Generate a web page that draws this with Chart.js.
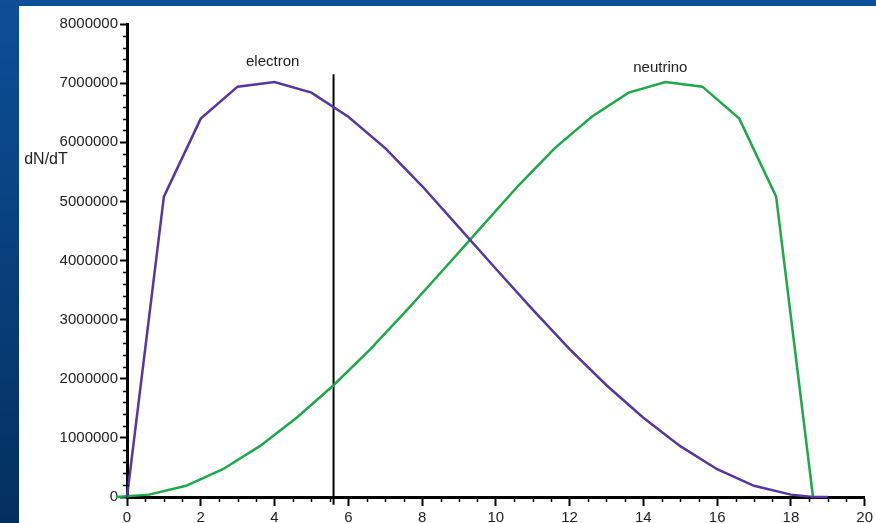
<!DOCTYPE html>
<html><head><meta charset="utf-8">
<script src="https://cdn.jsdelivr.net/npm/chart.js@4.4.0/dist/chart.umd.min.js"></script>
<style>
html,body{margin:0;padding:0;width:876px;height:523px;overflow:hidden;background:linear-gradient(#0d4f98,#03305f);}
#panel{position:absolute;left:19px;top:6px;width:857px;height:517px;background:#fff;}
#wrap{position:absolute;left:0;top:0;width:876px;height:523px;}
</style></head><body>
<div id="panel"></div>
<div id="wrap"><canvas id="c"></canvas></div>
<script>
// electron kinetic energy (keV) and dN/dT
const electronT = [0,1,2,3,4,5,6,7,8,9,10,11,12,13,14,15,16,17,18,18.6,19];
const electronN = [0,5080000,6400000,6940000,7020000,6840000,6430000,5900000,5260000,4560000,3860000,3170000,2500000,1890000,1340000,860000,470000,190000,40000,0,0];
// neutrino energy (keV) and dN/dT
const neutrinoT = [-0.3,0.6,1.6,2.6,3.6,4.6,5.6,6.6,7.6,8.6,9.6,10.6,11.6,12.6,13.6,14.6,15.6,16.6,17.6,18.6];
const neutrinoN = [0,40000,190000,470000,860000,1340000,1890000,2500000,3170000,3860000,4560000,5260000,5900000,6430000,6840000,7020000,6940000,6400000,5080000,0];
// vertical marker
const markerT = [5.6,5.6];
const markerN = [-130000,7150000];
// axis ticks
const xTickLabels = [0,2,4,6,8,10,12,14,16,18,20];
const yTickLabels = [0,1000000,2000000,3000000,4000000,5000000,6000000,7000000,8000000];
const seriesLabels = ['electron','neutrino'];
const yTitle = 'dN/dT';

const toXY = (xs, ys) => xs.map((x,i)=>({x:x,y:ys[i]}));
const FONT = '"Liberation Sans", Arial, sans-serif';

const extras = {
  id:'extras',
  afterDraw(chart){
    const ctx = chart.ctx, xs = chart.scales.x, ys = chart.scales.y;
    const a = chart.chartArea;
    ctx.save();
    ctx.strokeStyle = '#000';
    ctx.lineWidth = 1.5;
    // minor x ticks
    for (let v=0; v<=20.001; v+=0.5){
      if (Math.abs(v/2 - Math.round(v/2))<1e-6) continue;
      const px = Math.round(xs.getPixelForValue(v))+0.5;
      ctx.beginPath(); ctx.moveTo(px, a.bottom); ctx.lineTo(px, a.bottom+5); ctx.stroke();
    }
    // minor y ticks
    for (let v=0; v<=8000001; v+=200000){
      if (v % 1000000 === 0) continue;
      const py = Math.round(ys.getPixelForValue(v))+0.5;
      ctx.beginPath(); ctx.moveTo(a.left-4, py); ctx.lineTo(a.left+2, py); ctx.stroke();
    }
    // texts
    ctx.fillStyle = '#222';
    ctx.font = '15px ' + FONT;
    ctx.textAlign = 'center';
    ctx.textBaseline = 'middle';
    ctx.fillText(seriesLabels[0], xs.getPixelForValue(3.95), ys.getPixelForValue(7360000));
    ctx.fillText(seriesLabels[1], xs.getPixelForValue(14.46), ys.getPixelForValue(7260000));
    ctx.font = '16px ' + FONT;
    ctx.fillText(yTitle, 46, 160);
    ctx.restore();
  }
};

new Chart(document.getElementById('c'), {
  type:'line',
  data:{
    datasets:[
      {label:seriesLabels[0], data:toXY(electronT, electronN), borderColor:'#5637a0', borderWidth:2.5, pointRadius:0, tension:0, clip:false},
      {label:seriesLabels[1], data:toXY(neutrinoT, neutrinoN), borderColor:'#1ea84c', borderWidth:2.5, pointRadius:0, tension:0, clip:false},
      {label:'marker', data:toXY(markerT, markerN), borderColor:'#000', borderWidth:2, pointRadius:0, clip:false}
    ]
  },
  options:{
    responsive:true, maintainAspectRatio:false, animation:false,
    layout:{padding:{top:24,right:9,left:0,bottom:0}},
    plugins:{legend:{display:false}, tooltip:{enabled:false}},
    scales:{
      x:{type:'linear', min:0, max:20,
        afterBuildTicks:(s)=>{ s.ticks = xTickLabels.map(v=>({value:v})); },
        afterFit:(s)=>{ s.height = 26; },
        ticks:{color:'#222', font:{family:FONT,size:15}, padding:3, maxRotation:0, autoSkip:false, callback:(v)=>String(v)},
        grid:{display:true, drawOnChartArea:false, drawTicks:true, tickLength:9, tickColor:'#000', tickWidth:2},
        border:{display:true, color:'#000', width:3}
      },
      y:{type:'linear', min:0, max:8000000,
        afterBuildTicks:(s)=>{ s.ticks = yTickLabels.map(v=>({value:v})); },
        afterFit:(s)=>{ s.width = 127; },
        ticks:{color:'#222', font:{family:FONT,size:15}, padding:2, autoSkip:false, callback:(v)=>String(v)},
        grid:{display:true, drawOnChartArea:false, drawTicks:true, tickLength:7, tickColor:'#000', tickWidth:2},
        border:{display:true, color:'#000', width:3}
      }
    }
  },
  plugins:[extras]
});
</script>
</body></html>
